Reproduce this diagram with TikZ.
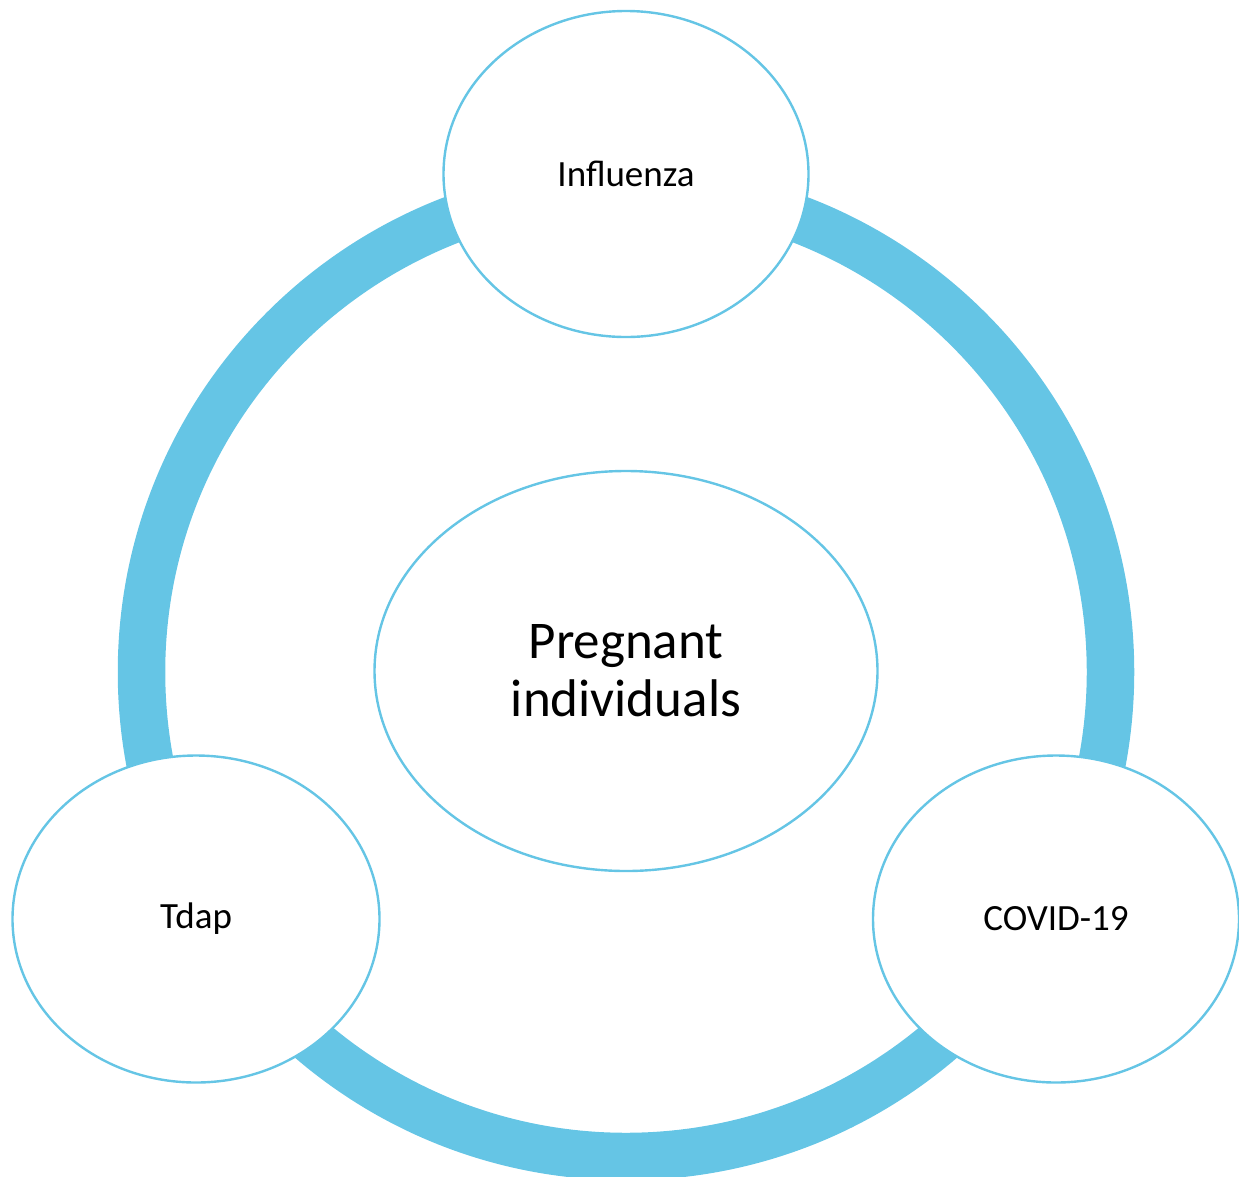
\documentclass[tikz,border=0pt]{standalone}
\usepackage{fontspec}
\setmainfont{Carlito}
\usetikzlibrary{shapes.geometric}
\definecolor{ringblue}{HTML}{65C5E5}
\tikzset{
  bubble/.style={ellipse, draw=ringblue, line width=2.4pt, fill=white, inner sep=0pt,
    minimum width=#1},
  label37/.style={font=\fontsize{37}{44}\selectfont, align=center},
}
\begin{document}
\begin{tikzpicture}[x=1pt,y=-1pt]
  \useasboundingbox (0,0) rectangle (1239,1176);
  % the cycle ring behind the bubbles
  \draw[ringblue, line width=47.5pt] (626,672) circle[radius=484.5];
  % centre topic
  \node[bubble=503pt, minimum height=400pt, font=\fontsize{53}{58}\selectfont, align=center]
    (center) at (626,671) {Pregnant\\individuals};
  % three satellite topics
  \node[bubble=365pt, minimum height=326pt, label37] (flu) at (626,174) {Influenza};
  \node[bubble=367pt, minimum height=327pt, label37] (tdap) at (196,919) {Tdap};
  \node[bubble=366pt, minimum height=327pt, label37] (covid) at (1056,919) {COVID-19};
\end{tikzpicture}
\end{document}
